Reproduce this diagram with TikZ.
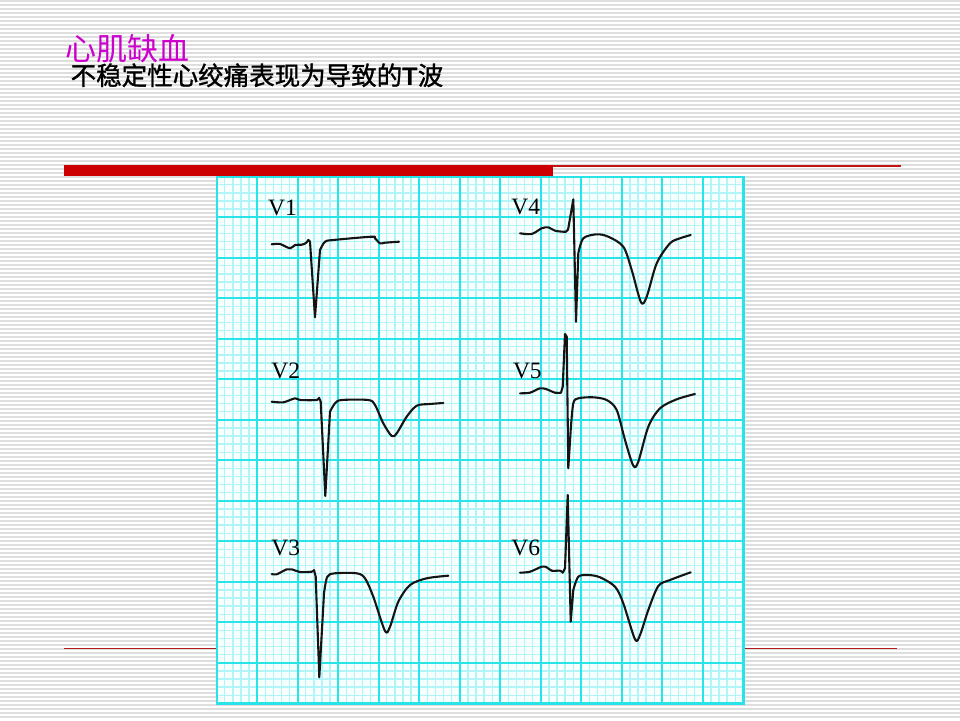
\documentclass[tikz,border=0pt]{standalone}
\usepackage{fontspec}
\setmainfont{Liberation Serif}
\newfontfamily\cjk{Noto Sans CJK SC}
\newfontfamily\cjkbold{Noto Sans CJK SC}[FakeBold=1.2]
\newfontfamily\arialfont{Liberation Sans}
\definecolor{stripegray}{RGB}{222,222,222}
\definecolor{barred}{RGB}{204,0,0}
\definecolor{linered}{RGB}{175,25,25}
\definecolor{toplinered}{RGB}{195,20,20}
\definecolor{gridmajor}{RGB}{40,228,232}
\definecolor{gridminor}{RGB}{178,245,248}
\definecolor{gridbg}{RGB}{247,255,255}
\definecolor{titlemag}{RGB}{204,0,204}
\tikzset{
  stripe/.style={draw=stripegray,line width=1.1pt},
  thinred/.style={draw=linered,line width=1.3pt},
  topred/.style={draw=toplinered,line width=1.5pt},
  minorline/.style={draw=gridminor,line width=1.3pt},
  majorline/.style={draw=gridmajor,line width=1.6pt},
  gridborder/.style={draw=gridmajor,line width=2.4pt},
  ecg/.style={draw=black!92,line width=2.1pt,line join=round,line cap=round},
  lead/.style={font=\fontsize{23.5}{25}\selectfont,inner sep=0pt,anchor=base west},
}
\begin{document}
\begin{tikzpicture}[x=1pt,y=-1pt]
\useasboundingbox (0,0) rectangle (960,720);
\fill[white] (0,0) rectangle (960,720);
% background stripes
\foreach \k in {0,...,179} {\draw[stripe] (0,4*\k+1) -- (960,4*\k+1);}
% red rules
\draw[thinred] (64,648.3) -- (896.7,648.3);
\fill[barred] (64.3,165) rectangle (553.3,176);
\draw[topred] (553,165.8) -- (900.7,165.8);
% ECG grid
\def\gx{216.7}\def\gy{176.7}\def\gs{8.1015}
\fill[gridbg] (216.7,176.7) rectangle (743.3,703.3);
\foreach \i in {1,...,64} {
  \draw[minorline] (\gx+\i*\gs,176.7) -- (\gx+\i*\gs,703.3);
  \draw[minorline] (216.7,\gy+\i*\gs) -- (743.3,\gy+\i*\gs);
}
\foreach \i in {1,...,12} {
  \draw[majorline] (\gx+\i*5*\gs,176.7) -- (\gx+\i*5*\gs,703.3);
  \draw[majorline] (216.7,\gy+\i*5*\gs) -- (743.3,\gy+\i*5*\gs);
}
\draw[gridborder] (216.7,176.7) rectangle (743.3,703.3);
% titles
\node[inner sep=0pt,anchor=base west,text=titlemag,font=\cjk\fontsize{31}{33}\selectfont] (title) at (65,60) {心肌缺血};
\node[inner sep=0pt,anchor=base west,text=black,font=\cjkbold\fontsize{25.5}{27}\selectfont] (subtitle) at (70.5,85) {不稳定性心绞痛表现为导致的{\arialfont\bfseries T}波};
% lead labels
\node[lead] (lv1) at (268,215) {V1};
\node[lead] (lv2) at (271.2,378.3) {V2};
\node[lead] (lv3) at (271.2,555) {V3};
\node[lead] (lv4) at (511.2,214) {V4};
\node[lead] (lv5) at (512.8,378.3) {V5};
\node[lead] (lv6) at (511.2,555) {V6};
% V1
\draw[ecg] plot[smooth,tension=0.5] coordinates {(271.7,244.3)(280,244)(290,248.3)(295,245)(301.7,244.7)(306,243)(308.3,240)} -- (310,241.7) -- (315,317.3) -- (320,250) -- plot[smooth,tension=0.5] coordinates {(320,250)(325,241.7)(333.3,240)(371.7,236.7)(375,238.3)(380,243.3)(385,242.7)(399,241.7)};
% V2
\draw[ecg] plot[smooth,tension=0.5] coordinates {(271.7,401.7)(283.3,402.3)(295,398.3)(300,400)(316.7,400)(319,397.7)} -- (320.7,401.7) -- (325.3,496) -- (330,411.7) -- plot[smooth,tension=0.5] coordinates {(330,411.7)(335,403.3)(341.7,400)(368.3,400)(375,405)(383.3,423.3)(391.7,436)(396.7,433.3)(406.7,416.7)(416.7,405.7)(430,404)(443.3,403)};
% V3
\draw[ecg] plot[smooth,tension=0.5] coordinates {(271.7,574)(276.7,574.3)(286.7,569.3)(291.7,569.3)(300,572)(311.7,571.7)(314,570)} -- (315.7,576.7) -- (319.3,677.3) -- (324,593.3) -- plot[smooth,tension=0.5] coordinates {(324,593.3)(327.3,576.7)(335,573.3)(356.7,573.3)(365,578.3)(373.3,596.7)(385,631)(390,626.7)(398.3,601.7)(410,585)(426.7,578.3)(448.3,575.7)};
% V4
\draw[ecg] plot[smooth,tension=0.5] coordinates {(520,233.3)(531.7,234)(541.7,228.3)(548.3,227.3)(555,230.7)(566,231.7)(568.3,228.3)} -- (573.3,199.3) -- (576,321.7) -- (578.3,253.3) -- plot[smooth,tension=0.5] coordinates {(578.3,253.3)(583.3,238.3)(596.7,234.3)(608.3,236.7)(623.3,246.7)(631.7,270)(641,302.3)(646.7,296.7)(656.7,263.3)(670,243.3)(680,238.3)(690.7,235)};
% V5
\draw[ecg] plot[smooth,tension=0.5] coordinates {(520,393.3)(530,392.7)(540,388.3)(546.7,389.3)(555,392.7)(561,392.7)} -- (562.7,386.7) -- (565,334) -- (566.7,336.7) -- (568.3,468.3) -- (570.7,430) -- plot[smooth,tension=0.5] coordinates {(570.7,430)(573.3,403.3)(578.3,398.3)(593.3,397.3)(606.7,400)(616.7,410)(625,440)(633.3,465.7)(638.3,461.7)(648.3,426.7)(660,408.3)(676.7,399.3)(695,394)};
% V6
\draw[ecg] plot[smooth,tension=0.5] coordinates {(520,572.7)(530,571.7)(541.7,566.7)(546.7,567.3)(551.7,570.7)(560,570.7)(562.7,572.7)} -- (565,568.3) -- (567.7,495) -- (570.7,621.7) -- (573.3,590) -- plot[smooth,tension=0.5] coordinates {(573.3,590)(578.3,576.7)(588.3,575)(600,577.3)(615,586.7)(623.3,603.3)(635,639.3)(640,635)(648.3,610)(658.3,586)(670,580)(690.7,572.3)};
\end{tikzpicture}
\end{document}
